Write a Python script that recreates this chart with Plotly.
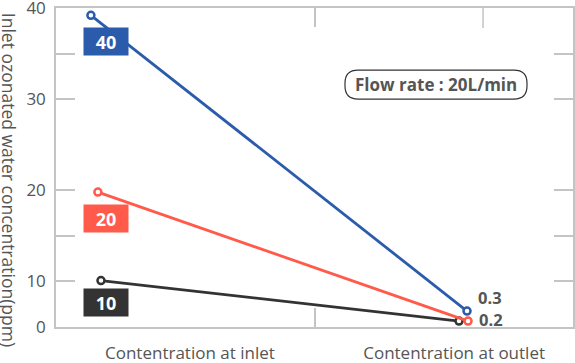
import plotly.graph_objects as go

# ---- data ----
categories = ["Contentration at inlet", "Contentration at outlet"]
category_pos = [0.518, 1.54]
series_names = ["10", "20", "40"]
series_colors = ["#333333", "#ff5a4a", "#2b5bab"]
inlet_x = [0.174, 0.162, 0.135]
outlet_x = [1.559, 1.594, 1.590]
inlet_vals = [10.1, 19.8, 39.2]      # plotted positions (ppm)
outlet_vals = [1.3, 1.3, 3.5]        # plotted positions (ppm, on compressed 0-10 segment)
inlet_labels = ["10", "20", "40"]
outlet_labels = ["0.2", "", "0.3"]
y_tick_vals = [0, 10, 20, 30, 40]
y_minor_vals = [15, 35]
flow_text = "Flow rate : 20L/min"
y_title = "Inlet ozonated water concentration(ppm)"


def f(v):
    # piecewise axis: 0-10 compressed to half scale
    return v * 0.5 if v <= 10 else 5 + (v - 10)


FONT = "Open Sans"
GRAY = "#c4c4c4"
TXT = "#555555"

fig = go.Figure()
for i in range(3):
    fig.add_trace(go.Scatter(
        x=[inlet_x[i], outlet_x[i]],
        y=[f(inlet_vals[i]), f(outlet_vals[i])],
        mode="lines+markers",
        line=dict(color=series_colors[i], width=2.8),
        marker=dict(symbol="circle", size=7, color="white",
                    line=dict(color=series_colors[i], width=2.5)),
        name=series_names[i], showlegend=False, hoverinfo="skip",
        cliponaxis=False,
    ))

# value boxes at inlet
box_shift = [(5, -22), (8, -26), (15, -26)]
for i in range(3):
    fig.add_annotation(
        x=inlet_x[i], y=f(inlet_vals[i]), xref="x", yref="y",
        text="<b>%s</b>" % inlet_labels[i], showarrow=False,
        font=dict(family=FONT, size=18, color="white"),
        bgcolor=series_colors[i], width=42, height=25,
        xshift=box_shift[i][0], yshift=box_shift[i][1],
        xanchor="center", yanchor="middle",
    )

# outlet labels
out_shift = [(9, 2), (0, 0), (9, 14)]
for i in range(3):
    if outlet_labels[i]:
        fig.add_annotation(
            x=outlet_x[i] if i != 0 else outlet_x[1], y=f(outlet_vals[i]),
            xref="x", yref="y",
            text="<b>%s</b>" % outlet_labels[i], showarrow=False,
            font=dict(family=FONT, size=16.5, color=TXT),
            xanchor="left", yanchor="middle",
            xshift=out_shift[i][0], yshift=out_shift[i][1],
        )

# flow rate badge
w, h, r = 182, 29, 13
hw, hh = w / 2, h / 2
path = (f"M {-hw + r},{-hh} L {hw - r},{-hh} Q {hw},{-hh} {hw},{-hh + r} "
        f"L {hw},{hh - r} Q {hw},{hh} {hw - r},{hh} L {-hw + r},{hh} "
        f"Q {-hw},{hh} {-hw},{hh - r} L {-hw},{-hh + r} Q {-hw},{-hh} {-hw + r},{-hh} Z")
fig.add_shape(type="path", xref="paper", yref="paper",
              xsizemode="pixel", ysizemode="pixel",
              xanchor=0.735, yanchor=0.760, path=path,
              line=dict(color="#333333", width=1.2), fillcolor="white")
fig.add_annotation(x=0.735, y=0.760, xref="paper", yref="paper",
                   text="<b>%s</b>" % flow_text, showarrow=False,
                   font=dict(family=FONT, size=17, color=TXT),
                   xanchor="center", yanchor="middle")

# extra top tick
fig.add_shape(type="line", xref="paper", yref="paper", ysizemode="pixel",
              yanchor=1, x0=0.826, x1=0.826, y0=0, y1=-20,
              line=dict(color=GRAY, width=1.5))

# y title
fig.add_annotation(x=-0.092, y=0.46, xref="paper", yref="paper",
                   text=y_title, textangle=90, showarrow=False,
                   font=dict(family=FONT, size=17.5, color=TXT),
                   xanchor="center", yanchor="middle")

fig.update_layout(
    width=575, height=363,
    margin=dict(l=56, r=2, t=8, b=36),
    paper_bgcolor="white", plot_bgcolor="white",
    font=dict(family=FONT, color=TXT),
    xaxis=dict(range=[0, 2], showgrid=False, zeroline=False, automargin=False,
               showline=True, linecolor=GRAY, linewidth=1.5, mirror="ticks",
               tickvals=category_pos, ticktext=categories, ticks="",
               ticklabelstandoff=10, ticklabeloverflow="allow",
               tickfont=dict(family=FONT, size=17, color=TXT),
               minor=dict(tickvals=[1.0], ticks="inside", ticklen=19,
                          tickcolor=GRAY, tickwidth=1.5, showgrid=False)),
    yaxis=dict(range=[0, f(40)], showgrid=False, zeroline=False, automargin=False,
               showline=True, linecolor=GRAY, linewidth=1.5, mirror="ticks",
               tickvals=[f(v) for v in y_tick_vals],
               ticktext=[str(v) for v in y_tick_vals],
               ticks="inside", ticklen=19, tickcolor=GRAY, tickwidth=1.5,
               ticklabelstandoff=5, ticklabeloverflow="allow",
               tickfont=dict(family=FONT, size=17, color=TXT),
               minor=dict(tickvals=[f(v) for v in y_minor_vals], ticks="inside",
                          ticklen=19, tickcolor=GRAY, tickwidth=1.5, showgrid=False)),
)

fig.write_html("out.html")
